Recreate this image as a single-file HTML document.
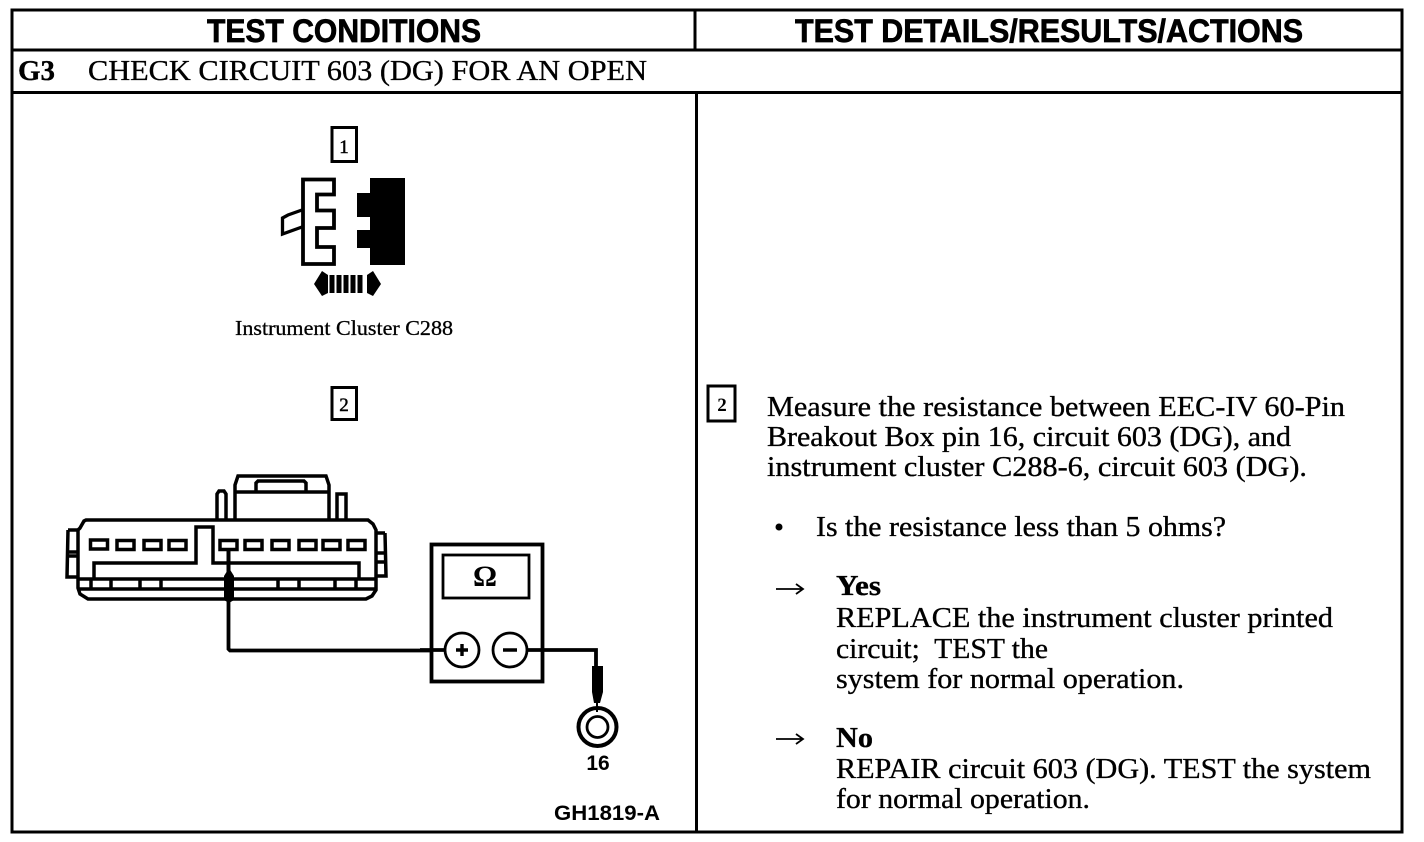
<!DOCTYPE html>
<html><head><meta charset="utf-8"><style>
html,body{margin:0;padding:0;background:#fff;width:1424px;height:842px;overflow:hidden}
svg{display:block}
text{fill:#000;white-space:pre}
.s{font-family:"Liberation Serif",serif;font-size:29px;stroke:#000;stroke-width:.35px}
.h{font-family:"Liberation Sans",sans-serif;font-weight:bold;font-size:32px;stroke:#000;stroke-width:.7px}
</style></head><body>
<svg width="1424" height="842" viewBox="0 0 1424 842" xmlns="http://www.w3.org/2000/svg">
<g fill="none" stroke="#000" stroke-width="3">
<rect x="12" y="10" width="1390" height="822"/>
<path d="M12 50H1402M12 92.500H1402M695 10V50M696.500 92V832" />
</g>
<text class="h" x="207" y="42" textLength="274" lengthAdjust="spacingAndGlyphs">TEST CONDITIONS</text>
<text class="h" x="795" y="42" textLength="508" lengthAdjust="spacingAndGlyphs">TEST DETAILS/RESULTS/ACTIONS</text>
<text class="s" x="18" y="80" font-weight="bold" textLength="37" lengthAdjust="spacingAndGlyphs">G3</text>
<text class="s" x="88" y="80" textLength="559" lengthAdjust="spacingAndGlyphs">CHECK CIRCUIT 603 (DG) FOR AN OPEN</text>

<!-- step 1 -->
<rect x="332" y="127.500" width="24.500" height="34" fill="none" stroke="#000" stroke-width="3"/>
<text x="344" y="153" text-anchor="middle" font-family="Liberation Serif, serif" font-size="19" stroke="#000" stroke-width=".5">1</text>
<path d="M303 179.500H334V194.500H317V210.500H334V228H317V247H334V264H303Z" fill="none" stroke="#000" stroke-width="3.800"/>
<path d="M302 210L288 215L282.500 218V234L302 227" fill="none" stroke="#000" stroke-width="3.300"/>
<path d="M370 178H405V265H370V248H357V230H370V217H357V193H370Z" fill="#000"/>
<path d="M314 284L322 271L328 275V293L322 296Z M367 275L373 271L381 284L373 296L367 293Z" fill="#000"/>
<path d="M332 275V293M339 275V293M346 275V293M353 275V293M360 275V293" stroke="#000" stroke-width="5"/>
<text x="235" y="335" font-family="Liberation Serif, serif" font-size="21" stroke="#000" stroke-width=".3" textLength="218" lengthAdjust="spacingAndGlyphs">Instrument Cluster C288</text>

<!-- step 2 -->
<rect x="332" y="387.500" width="24.500" height="32" fill="none" stroke="#000" stroke-width="3"/>
<text x="344" y="411" text-anchor="middle" font-family="Liberation Serif, serif" font-size="19" stroke="#000" stroke-width=".5">2</text>

<!-- connector -->
<g fill="none" stroke="#000" stroke-width="3.500">
<path d="M235 519V485L238 476H326L329 485V519"/>
<path d="M235 492H329"/>
<path d="M256 491V483L258 481H304L306 483V491"/>
<path d="M217 519V494L219 491H224L226 494V519"/>
<path d="M337 519V494H346V519"/>
<path d="M80 528L84 521L86 520H368L373 524L376 530V590L372 596L366 599H88L80 594L78 588V530Z"/>
<path d="M68 530H78M68 530L67 577H78M68 552H78M68 556H78"/>
<path d="M376 533H385M385 533L386 576H376M376 553H385M376 562H385"/>
<path d="M94 578V563H196V527H213V563H359V578"/>
<path d="M78 579H376M78 589H376"/>
<path d="M91 579V589M111 579V589M140 579V589M161 579V589M278 579V589M299 579V589M335 579V589M356 579V589"/>
<rect x="90.500" y="540" width="17" height="9"/>
<rect x="117" y="540.500" width="17" height="9"/>
<rect x="144" y="540.500" width="17" height="9"/>
<rect x="169" y="540.500" width="17" height="9"/>
<rect x="220" y="540.500" width="17" height="9"/>
<rect x="245" y="540.500" width="17" height="9"/>
<rect x="272" y="540.500" width="17" height="9"/>
<rect x="299" y="540.500" width="17" height="9"/>
<rect x="323" y="540.500" width="17" height="9"/>
<rect x="348" y="540.500" width="17" height="9"/>
</g>
<path d="M228.500 550V574" stroke="#000" stroke-width="4"/>
<path d="M224 576L229 568L234 576V600L229 603L224 600Z" fill="#000"/>
<path d="M228.500 600V649L230 650.500H443" fill="none" stroke="#000" stroke-width="3.800"/>

<!-- meter -->
<rect x="431.500" y="544.500" width="111" height="137" fill="#fff" stroke="#000" stroke-width="3.800"/>
<rect x="443" y="555" width="86" height="43" fill="none" stroke="#000" stroke-width="2.800"/>
<text x="485" y="586" text-anchor="middle" font-family="Liberation Serif, serif" font-size="30" font-weight="bold">Ω</text>
<path d="M420 650H445M528 650H596V668" fill="none" stroke="#000" stroke-width="3.800"/>
<circle cx="462" cy="650" r="17" fill="#fff" stroke="#000" stroke-width="2.800"/>
<circle cx="510" cy="650" r="17" fill="#fff" stroke="#000" stroke-width="2.800"/>
<path d="M456 650H468M462 644V656M503 650H517" stroke="#000" stroke-width="3.400"/>
<path d="M592 666H603V692L600 703H598V712H596V703H594L592 692Z" fill="#000"/>
<circle cx="597.500" cy="727" r="19" fill="none" stroke="#000" stroke-width="4"/>
<circle cx="597.500" cy="727" r="10.500" fill="none" stroke="#000" stroke-width="2.800"/>
<text x="598" y="770" text-anchor="middle" font-family="Liberation Sans, sans-serif" font-size="21" font-weight="bold">16</text>
<text x="554" y="820" font-family="Liberation Sans, sans-serif" font-size="21" font-weight="bold" textLength="106" lengthAdjust="spacingAndGlyphs">GH1819-A</text>

<!-- right column -->
<rect x="708" y="386" width="27" height="35" fill="none" stroke="#000" stroke-width="3"/>
<text x="722" y="411" text-anchor="middle" font-family="Liberation Serif, serif" font-size="19" font-weight="bold">2</text>
<text class="s" x="767" y="416" textLength="578" lengthAdjust="spacingAndGlyphs">Measure the resistance between EEC-IV 60-Pin</text>
<text class="s" x="767" y="446" textLength="524" lengthAdjust="spacingAndGlyphs">Breakout Box pin 16, circuit 603 (DG), and</text>
<text class="s" x="767" y="476" textLength="540" lengthAdjust="spacingAndGlyphs">instrument cluster C288-6, circuit 603 (DG).</text>
<circle cx="779" cy="527" r="3.500" fill="#000"/>
<text class="s" x="816" y="536" textLength="410" lengthAdjust="spacingAndGlyphs">Is the resistance less than 5 ohms?</text>
<path d="M776 589H803M796 584L803 589L796 594" fill="none" stroke="#000" stroke-width="1.800"/>
<text class="s" x="836" y="595" font-weight="bold" textLength="45" lengthAdjust="spacingAndGlyphs">Yes</text>
<text class="s" x="836" y="627" textLength="497" lengthAdjust="spacingAndGlyphs">REPLACE the instrument cluster printed</text>
<text class="s" x="836" y="658" textLength="212" lengthAdjust="spacingAndGlyphs">circuit;  TEST the</text>
<text class="s" x="836" y="688" textLength="348" lengthAdjust="spacingAndGlyphs">system for normal operation.</text>
<path d="M776 739H803M796 734L803 739L796 744" fill="none" stroke="#000" stroke-width="1.800"/>
<text class="s" x="836" y="747" font-weight="bold" textLength="37" lengthAdjust="spacingAndGlyphs">No</text>
<text class="s" x="836" y="778" textLength="535" lengthAdjust="spacingAndGlyphs">REPAIR circuit 603 (DG). TEST the system</text>
<text class="s" x="836" y="808" textLength="254" lengthAdjust="spacingAndGlyphs">for normal operation.</text>
</svg>
</body></html>
